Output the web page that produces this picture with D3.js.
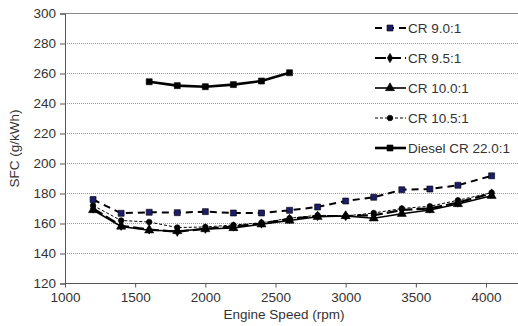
<!DOCTYPE html>
<html>
<head>
<meta charset="utf-8">
<script src="https://cdn.jsdelivr.net/npm/d3@7"></script>
<style>
  body { margin: 0; background: #fff; }
  svg text { font-family: "Liberation Sans", Arial, sans-serif; fill: #333; }
</style>
</head>
<body>
<div id="chart"></div>
<script>
// data
const rpmGas = [1200, 1400, 1600, 1800, 2000, 2200, 2400, 2600, 2800, 3000, 3200, 3400, 3600, 3800, 4040];
const rpmDiesel = [1600, 1800, 2000, 2200, 2400, 2600];
const cr90 = [176, 166.8, 167.5, 167.2, 167.9, 167, 167, 168.8, 171, 175, 177.5, 182.5, 183, 185.5, 191.8];
const cr95 = [170, 158.5, 156, 154.5, 156.5, 158, 160, 163, 165, 165, 165.5, 169, 170, 174, 180];
const cr100 = [169, 158, 155.5, 155, 156.3, 157, 159.5, 162, 164.5, 165, 163.5, 166.5, 169, 173, 178.5];
const cr105 = [172, 162, 161, 157.3, 157.7, 159, 160.5, 163.5, 165.5, 165, 167, 170, 171.5, 175.5, 180.5];
const diesel = [254.5, 251.9, 251.2, 252.6, 255, 260.5];
const yTicks = [120, 140, 160, 180, 200, 220, 240, 260, 280, 300];
const xTicks = [1000, 1500, 2000, 2500, 3000, 3500, 4000];

const series = [
  { name: 'CR 9.0:1', x: rpmGas, y: cr90, dash: '7,5', width: 2, marker: 'square', fill: '#1c1c6b', stroke: '#000', size: 6 },
  { name: 'CR 9.5:1', x: rpmGas, y: cr95, dash: '11,4', width: 2.2, marker: 'diamond', fill: '#000', stroke: '#000', size: 5 },
  { name: 'CR 10.0:1', x: rpmGas, y: cr100, dash: null, width: 1.6, marker: 'triangle', fill: '#000', stroke: '#000', size: 6 },
  { name: 'CR 10.5:1', x: rpmGas, y: cr105, dash: '3,2', width: 1, marker: 'circle', fill: '#000', stroke: '#000', size: 5 },
  { name: 'Diesel CR 22.0:1', x: rpmDiesel, y: diesel, dash: null, width: 2.6, marker: 'square', fill: '#000', stroke: '#000', size: 6 }
];

const W = 518, H = 326;
const svg = d3.select('#chart').append('svg').attr('width', W).attr('height', H);

const x = d3.scaleLinear().domain([1000, 4000]).range([65, 486]);
const y = d3.scaleLinear().domain([120, 300]).range([283.5, 13.5]);
const right = W;

// gridlines
svg.append('g').selectAll('line').data(yTicks.filter(d => d !== 120 && d !== 300)).join('line')
  .attr('x1', x(1000)).attr('x2', right)
  .attr('y1', d => y(d)).attr('y2', d => y(d))
  .attr('stroke', '#999').attr('stroke-width', 1).attr('stroke-dasharray', '1,1');

svg.append('line')
  .attr('x1', x(1000)).attr('x2', right)
  .attr('y1', y(300)).attr('y2', y(300))
  .attr('stroke', '#888').attr('stroke-width', 1);

// axes
const yAxis = svg.append('g').attr('transform', `translate(${x(1000)},0)`)
  .call(d3.axisLeft(y).tickValues(yTicks).tickSize(5).tickPadding(4));
const xAxis = svg.append('g').attr('transform', `translate(0,${y(120)})`)
  .call(d3.axisBottom(x).tickValues(xTicks).tickSize(5).tickPadding(4).tickFormat(d3.format('d')));
xAxis.select('.domain').attr('d', `M${x(1000)},0H${right}`);
[yAxis, xAxis].forEach(a => {
  a.select('.domain').attr('stroke', '#555');
  a.selectAll('.tick line').attr('stroke', '#555');
  a.selectAll('.tick text').attr('font-size', 13.5).attr('fill', '#333')
    .style('font-family', '"Liberation Sans", Arial, sans-serif');
});
xAxis.selectAll('.tick line').attr('y2', 4);

svg.append('text')
  .attr('transform', `translate(19,${(y(120) + y(300)) / 2}) rotate(-90)`)
  .attr('text-anchor', 'middle').attr('font-size', 13.5).text('SFC (g/kWh)');
svg.append('text')
  .attr('x', 284).attr('y', 319)
  .attr('text-anchor', 'middle').attr('font-size', 13.5).text('Engine Speed (rpm)');

const shape = {
  square: d3.symbolSquare, diamond: d3.symbolDiamond,
  triangle: d3.symbolTriangle, circle: d3.symbolCircle
};

function drawMarker(g, s, cx, cy) {
  g.append('path')
    .attr('d', d3.symbol(shape[s.marker], s.size * s.size)())
    .attr('transform', `translate(${cx},${cy})`)
    .attr('fill', s.fill).attr('stroke', s.stroke).attr('stroke-width', 0.6);
}

const line = d3.line().x(d => x(d[0])).y(d => y(d[1]));

series.forEach(s => {
  const pts = s.x.map((v, i) => [v, s.y[i]]);
  const g = svg.append('g');
  g.append('path').datum(pts)
    .attr('d', line)
    .attr('fill', 'none').attr('stroke', '#000')
    .attr('stroke-width', s.width)
    .attr('stroke-dasharray', s.dash);
  pts.forEach(p => drawMarker(g, s, x(p[0]), y(p[1])));
});

// legend
const leg = svg.append('g');
series.forEach((s, i) => {
  const ly = 28 + i * 30;
  const g = leg.append('g');
  g.append('line')
    .attr('x1', 375).attr('x2', 406).attr('y1', ly).attr('y2', ly)
    .attr('stroke', '#000').attr('stroke-width', s.width)
    .attr('stroke-dasharray', s.dash);
  drawMarker(g, s, 390, ly);
  g.append('text').attr('x', 408).attr('y', ly + 4.5)
    .attr('font-size', 13.5).text(s.name);
});
</script>
</body>
</html>
